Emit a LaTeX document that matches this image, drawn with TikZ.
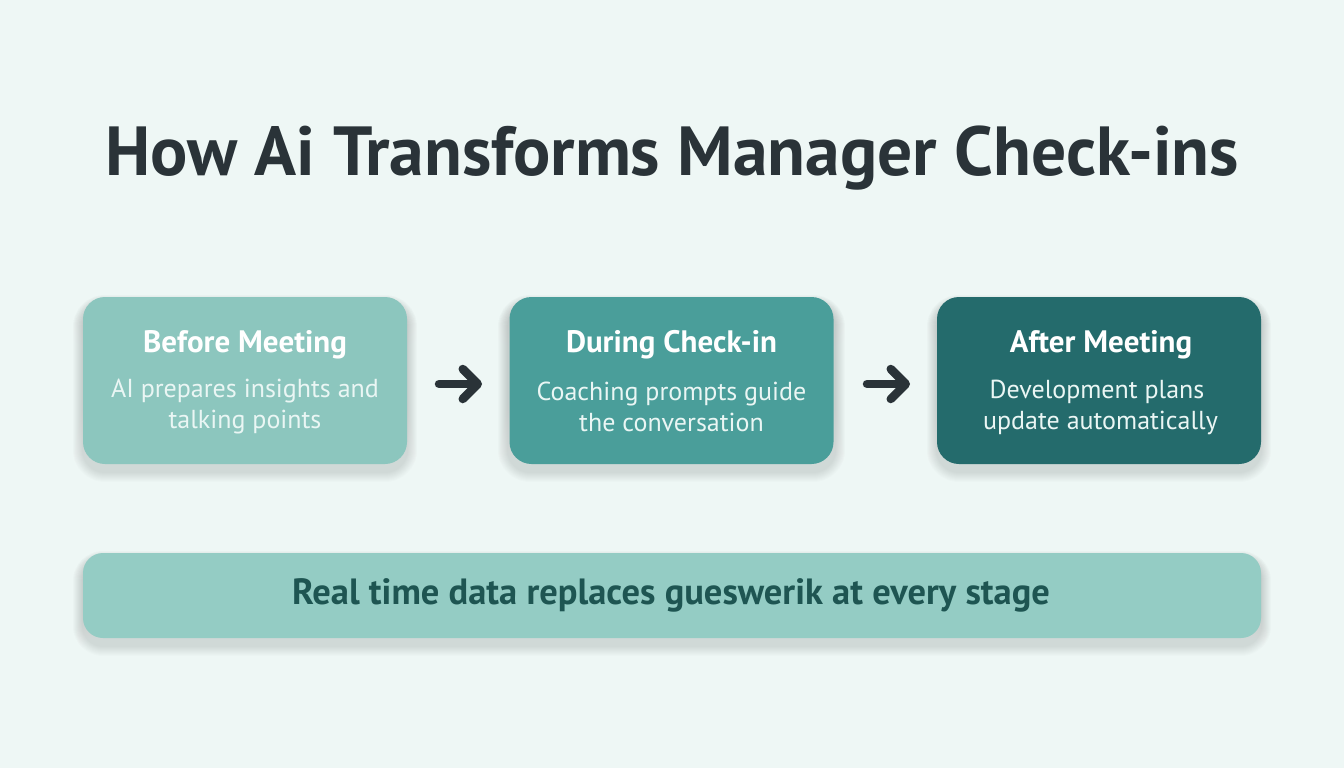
\documentclass[tikz,border=0pt]{standalone}
\usepackage{fontspec}
\setmainfont{PT Sans}
\usetikzlibrary{arrows.meta}
\definecolor{bgc}{HTML}{EEF7F5}
\definecolor{ink}{HTML}{2A3338}
\definecolor{cA}{HTML}{8CC6BE}
\definecolor{cB}{HTML}{4A9E9A}
\definecolor{cC}{HTML}{246B6C}
\definecolor{cBar}{HTML}{94CCC4}
\definecolor{barText}{HTML}{1E5552}
\definecolor{soft}{HTML}{EAF6F4}
\definecolor{shade}{HTML}{2F5550}
\tikzset{
  stagebox/.style={rounded corners=22pt, minimum width=324pt, minimum height=167pt, draw=none},
  head/.style={text=white, font=\bfseries\fontsize{31}{35}\selectfont},
  body/.style={text=soft, align=center, font=\fontsize{26}{31}\selectfont},
  flow/.style={draw=ink, line width=8.5pt, line cap=round, -{Straight Barb[length=15pt, width=30pt, line cap=round, line join=round]}},
}
\newcommand{\softshadow}[5]{%
  \foreach \k in {1,...,10}{
    \fill[shade, opacity=0.012, rounded corners=#5+\k pt]
      (#1-\k, #2-\k+8) rectangle (#3+\k, #4+\k+8);
  }}
\begin{document}
\begin{tikzpicture}[x=1pt,y=-1pt]
\fill[bgc] (0,0) rectangle (1344,768);
\useasboundingbox (0,0) rectangle (1344,768);
\node[text=ink, font=\bfseries\fontsize{69.5}{80}\selectfont] (title) at (672,158) {How Ai Transforms Manager Check-ins};
\softshadow{83}{297}{407}{464}{22}
\softshadow{508}{297}{835}{464}{22}
\softshadow{937}{297}{1261}{464}{22}
\softshadow{83}{553}{1261}{638}{20}
\node[stagebox, fill=cA] (b1) at (245,380.5) {};
\node[stagebox, fill=cB] (b2) at (671.5,380.5) {};
\node[stagebox, fill=cC] (b3) at (1099,380.5) {};
\node[head] (h1) at (245,345) {Before Meeting};
\node[body] (t1) at (245,407) {AI prepares insights and\\talking points};
\node[head] (h2) at (671.5,345) {During Check-in};
\node[body] (t2) at (671.5,407) {Coaching prompts guide\\the conversation};
\node[head] (h3) at (1101,345) {After Meeting};
\node[body] (t3) at (1097,407) {Development plans\\\ update automatically};
\coordinate (a1s) at (439,384);
\coordinate (a1e) at (482,384);
\coordinate (a2s) at (867,384);
\coordinate (a2e) at (910,384);
\draw[flow] (a1s) -- (a1e);
\draw[flow] (a2s) -- (a2e);
\node[rounded corners=20pt, minimum width=1178pt, minimum height=85pt, fill=cBar] (bar) at (672,595.5) {};
\node[text=barText, font=\bfseries\fontsize{36.5}{40}\selectfont] (bt) at (671,595) {Real time data replaces gueswerik at every stage};
\end{tikzpicture}
\end{document}
